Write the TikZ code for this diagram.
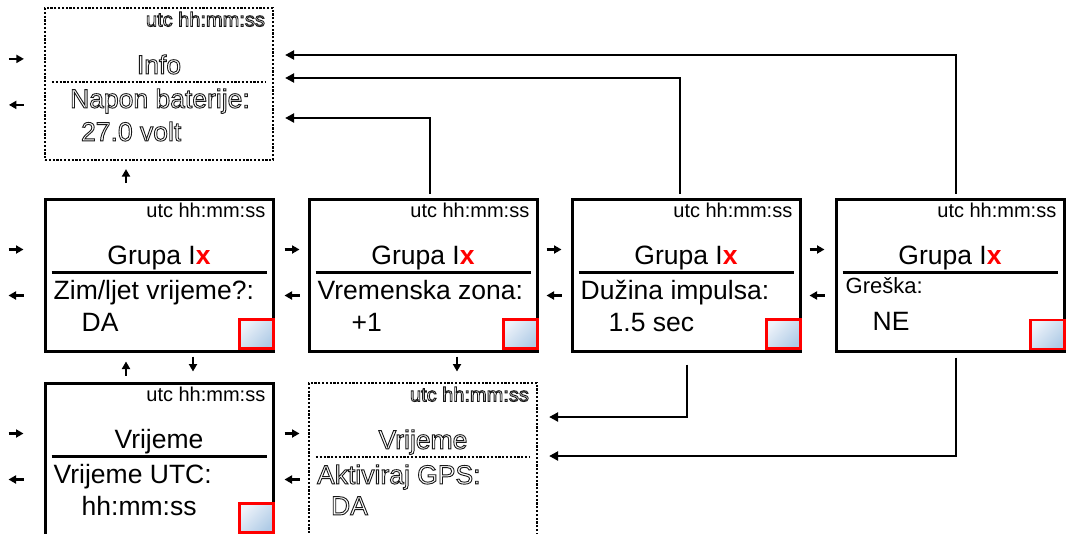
\documentclass[tikz,border=0pt]{standalone}
\usepackage{fontspec}
\setmainfont{Liberation Sans}
\usetikzlibrary{arrows.meta}
\definecolor{sqlight}{HTML}{EEF3FA}
\definecolor{sqdark}{HTML}{AFCBE6}
\newcommand\hollow[1]{\special{pdf:literal direct 1 Tr 0.9 w}#1\special{pdf:literal direct 0 Tr}}
\begin{document}
\begin{tikzpicture}[x=1pt,y=-1pt,
  screen/.style={draw=black, line width=3pt, minimum width=228pt, minimum height=152pt, inner sep=0pt, rectangle},
  dscreen/.style={draw=black, line width=2.2pt, dash pattern=on 2.2pt off 1.6pt, minimum width=228pt, minimum height=152pt, inner sep=0pt, rectangle},
  big/.style={font=\fontsize{26.5}{30}\selectfont, inner sep=0pt},
  small/.style={font=\fontsize{20}{24}\selectfont, inner sep=0pt},
  mid/.style={font=\fontsize{22}{26}\selectfont, inner sep=0pt},
  ghost/.style={text=black!90},
  sep/.style={line width=2.6pt},
  dsep/.style={line width=2.2pt, dash pattern=on 2.2pt off 1.6pt},
  redsq/.style={draw=red, line width=2.6pt, top color=sqlight, bottom color=sqdark, shading angle=45, minimum width=34pt, minimum height=29pt, inner sep=0pt},
  stub/.style={line width=2.2pt, -{Triangle[length=7.5pt,width=8pt]}},
  conn/.style={line width=2.8pt, -{Triangle[length=9pt,width=9pt]}},
]
\path[use as bounding box, fill=white] (0,0) rectangle (1070,533);

% boxes
\node[dscreen] (info) at (159,84) {};
\node[screen] (b1) at (159,275) {};
\node[screen] (b2) at (423,275) {};
\node[screen] (b3) at (686,275) {};
\node[screen] (b4) at (950,275) {};
\node[screen] (b5) at (159,459) {};
\node[dscreen] (b6) at (423,459) {};

% info contents
\node[small, ghost, anchor=base east] (infou) at ([shift={(-9,19.5)}]info.north east) {\hollow{utc hh:mm:ss}};
\node[big, ghost, anchor=base] (infot) at ([shift={(0,67)}]info.north) {\hollow{Info}};
\draw[dsep] ([shift={(8,75)}]info.north west) -- ([shift={(-8,75)}]info.north east);
\node[big, ghost, anchor=base west] (infol) at ([shift={(26,101)}]info.north west) {\hollow{Napon baterije:}};
\node[big, ghost, anchor=base west] (infov) at ([shift={(37,134)}]info.north west) {\hollow{27.0 volt}};

% b1
\node[small, anchor=base east] (b1u) at ([shift={(-9,19.5)}]b1.north east) {utc hh:mm:ss};
\node[big, anchor=base] (b1t) at ([shift={(0,67)}]b1.north) {Grupa I\textcolor{red}{\textbf{x}}};
\draw[sep] ([shift={(8,75)}]b1.north west) -- ([shift={(-8,75)}]b1.north east);
\node[big, anchor=base west] (b1l) at ([shift={(10,102)}]b1.north west) {Zim/ljet vrijeme?:};
\node[big, anchor=base west] (b1v) at ([shift={(38,134)}]b1.north west) {DA};
\node[redsq] (b1s) at ([shift={(-18,-18.5)}]b1.south east) {};

% b2
\node[small, anchor=base east] (b2u) at ([shift={(-9,19.5)}]b2.north east) {utc hh:mm:ss};
\node[big, anchor=base] (b2t) at ([shift={(0,67)}]b2.north) {Grupa I\textcolor{red}{\textbf{x}}};
\draw[sep] ([shift={(8,75)}]b2.north west) -- ([shift={(-8,75)}]b2.north east);
\node[big, anchor=base west] (b2l) at ([shift={(10,102)}]b2.north west) {Vremenska zona:};
\node[big, anchor=base west] (b2v) at ([shift={(44,134)}]b2.north west) {+1};
\node[redsq] (b2s) at ([shift={(-18,-18.5)}]b2.south east) {};

% b3
\node[small, anchor=base east] (b3u) at ([shift={(-9,19.5)}]b3.north east) {utc hh:mm:ss};
\node[big, anchor=base] (b3t) at ([shift={(0,67)}]b3.north) {Grupa I\textcolor{red}{\textbf{x}}};
\draw[sep] ([shift={(8,75)}]b3.north west) -- ([shift={(-8,75)}]b3.north east);
\node[big, anchor=base west] (b3l) at ([shift={(10,102)}]b3.north west) {Dužina impulsa:};
\node[big, anchor=base west] (b3v) at ([shift={(38,134)}]b3.north west) {1.5 sec};
\node[redsq] (b3s) at ([shift={(-18,-18.5)}]b3.south east) {};

% b4
\node[small, anchor=base east] (b4u) at ([shift={(-9,19.5)}]b4.north east) {utc hh:mm:ss};
\node[big, anchor=base] (b4t) at ([shift={(0,67)}]b4.north) {Grupa I\textcolor{red}{\textbf{x}}};
\draw[sep] ([shift={(8,75)}]b4.north west) -- ([shift={(-8,75)}]b4.north east);
\node[mid, anchor=base west] (b4l) at ([shift={(11,96)}]b4.north west) {Greška:};
\node[big, anchor=base west] (b4v) at ([shift={(38,133)}]b4.north west) {NE};
\node[redsq] (b4s) at ([shift={(-18,-18)}]b4.south east) {};

% b5
\node[small, anchor=base east] (b5u) at ([shift={(-9,19.5)}]b5.north east) {utc hh:mm:ss};
\node[big, anchor=base] (b5t) at ([shift={(0,67)}]b5.north) {Vrijeme};
\draw[sep] ([shift={(8,75)}]b5.north west) -- ([shift={(-8,75)}]b5.north east);
\node[big, anchor=base west] (b5l) at ([shift={(10,102)}]b5.north west) {Vrijeme UTC:};
\node[big, anchor=base west] (b5v) at ([shift={(38,134)}]b5.north west) {hh:mm:ss};
\node[redsq] (b5s) at ([shift={(-18,-18.5)}]b5.south east) {};

% b6
\node[small, ghost, anchor=base east] (b6u) at ([shift={(-9,19.5)}]b6.north east) {\hollow{utc hh:mm:ss}};
\node[big, ghost, anchor=base] (b6t) at ([shift={(0,67)}]b6.north) {\hollow{Vrijeme}};
\draw[dsep] ([shift={(8,75)}]b6.north west) -- ([shift={(-8,75)}]b6.north east);
\node[big, ghost, anchor=base west] (b6l) at ([shift={(9,102)}]b6.north west) {\hollow{Aktiviraj GPS:}};
\node[big, ghost, anchor=base west] (b6v) at ([shift={(23,133)}]b6.north west) {\hollow{DA}};

% horizontal stubs
\foreach \b in {info,b1,b5}{
  \draw[stub] ([shift={(-35,52)}]\b.north west) -- ([shift={(-20,52)}]\b.north west);
  \draw[stub] ([shift={(-20,98)}]\b.north west) -- ([shift={(-35,98)}]\b.north west);
}
\foreach \b in {b1,b5}{
  \draw[stub] ([shift={(10,52)}]\b.north east) -- ([shift={(25,52)}]\b.north east);
  \draw[stub] ([shift={(25,98)}]\b.north east) -- ([shift={(10,98)}]\b.north east);
}
\foreach \b in {b2,b3}{
  \draw[stub] ([shift={(8,52)}]\b.north east) -- ([shift={(23,52)}]\b.north east);
  \draw[stub] ([shift={(23,98)}]\b.north east) -- ([shift={(8,98)}]\b.north east);
}

% vertical stubs
\draw[stub] ([shift={(-33,22)}]info.south) -- ([shift={(-33,8)}]info.south);
\draw[stub] ([shift={(-33,23)}]b1.south) -- ([shift={(-33,9)}]b1.south);
\draw[stub] ([shift={(34,4)}]b1.south) -- ([shift={(34,19)}]b1.south);
\draw[stub] ([shift={(34,4)}]b2.south) -- ([shift={(34,19)}]b2.south);

% connectors
\draw[conn] ([shift={(7,-4)}]b2.north) |- ([shift={(11,34)}]info.east);
\draw[conn] ([shift={(-6,-4)}]b3.north) |- ([shift={(11,-6)}]info.east);
\draw[conn] ([shift={(6,-4)}]b4.north) |- ([shift={(11,-29)}]info.east);
\draw[conn] ([shift={(1,12)}]b3.south) |- ([shift={(11,-42)}]b6.east);
\draw[conn] ([shift={(6,5)}]b4.south) |- ([shift={(11,-3)}]b6.east);
\end{tikzpicture}
\end{document}
